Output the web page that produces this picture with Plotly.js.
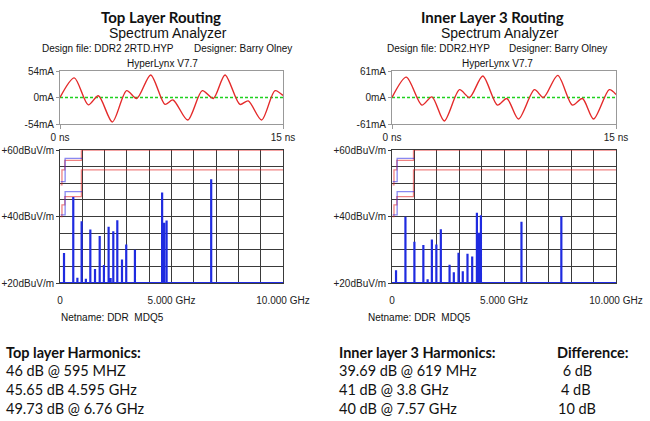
<!DOCTYPE html>
<html>
<head>
<meta charset="utf-8">
<script src="https://cdn.plot.ly/plotly-3.0.1.min.js"></script>
<style>html,body{margin:0;padding:0;background:#fff}#chart{width:650px;height:421px}</style>
</head>
<body>
<div id="chart"></div>
<script>
// ---- Time-domain current waveforms (ns, mA) ----
const topTime    = [0, 0.96, 1.9, 2.58, 3.52, 4.48, 5.16, 6.1, 7.06, 7.6, 8.59, 9.57, 10.31, 11.1, 12.1, 12.66, 13.56, 14.46, 15];
const topCurrent = [0, 40, -15, 3.5, -50, 14, -2, 46, -14, -5, -46, 14, -2, 46, -14, -7, -46, 14, 4];
const innerTime    = [0, 0.96, 2.0, 2.67, 3.5, 4.52, 5.19, 6.08, 7.06, 7.69, 8.47, 9.54, 10.14, 11.1, 12.08, 12.75, 13.5, 14.55, 15];
const innerCurrent = [0, 47, -17.5, 1.5, -54, 18, 0, 49.6, -17.5, -2.3, -49.6, 18, 0, 51, -17.5, -2.3, -49.6, 18, 7];
const topRange = 54, innerRange = 61;

// ---- Spectrum harmonics (GHz, dBuV/m) ----
const topFreq = [0.18, 0.595, 0.78, 0.97, 1.16, 1.36, 1.57, 1.78, 1.97, 2.18, 2.27, 2.39, 2.57, 2.78, 2.97, 3.36, 4.58, 4.67, 4.78, 6.78];
const topDb   = [29.0, 45.9, 21.6, 38.6, 21.3, 36.1, 24.2, 34.1, 25.4, 36.9, 21.5, 35.6, 38.9, 27.1, 31.6, 30.0, 47.2, 38.1, 38.8, 51.2];
const innerFreq = [0.18, 0.6, 1.0, 1.40, 1.59, 1.78, 1.98, 2.18, 2.57, 2.76, 2.97, 3.16, 3.37, 3.58, 3.79, 3.85, 3.89, 3.97, 5.78, 7.56];
const innerDb   = [23.8, 39.9, 32.4, 31.4, 21.1, 33.1, 31.6, 36.2, 25.5, 23.2, 29.1, 23.5, 28.8, 28.0, 41.1, 35.1, 35.1, 40.4, 38.4, 40.1];
const floorDb = 20;

// ---- Emission limit lines (GHz, dBuV/m) ----
const fccAFreq = [0.03, 0.088, 0.088, 0.216, 0.216, 0.96, 0.96, 10];
const fccADb   = [49.5, 49.5, 54, 54, 56.9, 56.9, 60, 60];
const fccBFreq = [0.03, 0.088, 0.088, 0.216, 0.216, 0.96, 0.96, 10];
const fccBDb   = [40, 40, 43.5, 43.5, 46, 46, 54, 54];
const cisprAFreq = [0.03, 0.23, 0.23, 1.0];
const cisprADb   = [50.5, 50.5, 57.5, 57.5];
const cisprBFreq = [0.03, 0.23, 0.23, 1.0];
const cisprBDb   = [40.5, 40.5, 47.5, 47.5];

// ---- Text ----
const panelTitles = ["Top Layer Routing", "Inner Layer 3 Routing"];
const designFiles = ["Design file: DDR2 2RTD.HYP", "Design file: DDR2.HYP"];
const designer = "Designer: Barry Olney";
const tool = "HyperLynx V7.7";
const netname = "Netname: DDR  MDQ5";
const topHarmonics = ["Top layer Harmonics:", "46 dB @ 595 MHZ", "45.65 dB 4.595 GHz", "49.73 dB @ 6.76 GHz"];
const innerHarmonics = ["Inner layer 3 Harmonics:", "39.69 dB @ 619 MHz", "41 dB @ 3.8 GHz", "40 dB @ 7.57 GHz"];
const differences = ["Difference:", " 6 dB", "4 dB", "10 dB"];

const W = 650, H = 421;
const px = x => x / W, py = y => 1 - y / H;
const ARIAL = "Liberation Sans, Arial, sans-serif";
const CAL = "Lato, Carlito, Calibri, sans-serif";

function spikes(f, d) {
  const x = [0], y = [floorDb];
  for (let i = 0; i < f.length; i++) { x.push(f[i], f[i], f[i]); y.push(floorDb, d[i], floorDb); }
  x.push(10); y.push(floorDb);
  return {x, y};
}

const traces = [];
function addPanel(n, time, cur, freq, db) {
  const xa = n === 0 ? 'x' : 'x3', ya = n === 0 ? 'y' : 'y3';
  const xs = n === 0 ? 'x2' : 'x4', ys = n === 0 ? 'y2' : 'y4';
  traces.push({x: [0, 15], y: [0, 0], xaxis: xa, yaxis: ya, type: 'scatter', mode: 'lines',
    line: {color: '#1fd01f', width: 1.3, dash: '3px,2px'}, hoverinfo: 'skip'});
  traces.push({x: time, y: cur, xaxis: xa, yaxis: ya, type: 'scatter', mode: 'lines',
    line: {color: '#e42a2a', width: 1.4, shape: 'spline', smoothing: 0.8}, hoverinfo: 'skip'});
  const lim = [[fccAFreq, fccADb, 'rgba(225,30,30,0.55)'], [fccBFreq, fccBDb, 'rgba(225,30,30,0.55)'],
               [cisprAFreq, cisprADb, 'rgba(40,40,230,0.55)'], [cisprBFreq, cisprBDb, 'rgba(40,40,230,0.55)']];
  lim.forEach(l => traces.push({x: l[0], y: l[1], xaxis: xs, yaxis: ys, type: 'scatter', mode: 'lines',
    line: {color: l[2], width: 1.3}, hoverinfo: 'skip'}));
  const s = spikes(freq, db);
  traces.push({x: s.x, y: s.y, xaxis: xs, yaxis: ys, type: 'scatter', mode: 'lines',
    line: {color: '#1f2be0', width: 2.2}, hoverinfo: 'skip'});
}
addPanel(0, topTime, topCurrent, topFreq, topDb);
addPanel(1, innerTime, innerCurrent, innerFreq, innerDb);

const tf = {family: ARIAL, size: 10, color: '#222'};
const GRID = '#3a3a3a';
function timeAxes(xd, yd, rng) {
  return [{domain: xd, range: [0, 15], tickvals: [0, 15], ticktext: ['0 ns', '15 ns'], showgrid: false, zeroline: false,
           showline: true, mirror: true, linecolor: '#999', linewidth: 1, ticks: 'outside', ticklen: 4, tickcolor: '#999',
           tickfont: tf, fixedrange: true},
          {domain: yd, range: [-rng, rng], tickvals: [rng, 0, -rng], ticktext: [rng + 'mA', '0mA', '-' + rng + 'mA'],
           showgrid: false, zeroline: false, showline: true, mirror: true, linecolor: '#999', linewidth: 1,
           ticks: 'outside', ticklen: 3, tickcolor: '#999', tickfont: tf, fixedrange: true}];
}
function specAxes(xd, yd) {
  return [{domain: xd, range: [0, 10], tickvals: [0, 5, 10], ticktext: ['0', '5.000 GHz', '10.000 GHz'],
           showgrid: true, gridcolor: GRID, gridwidth: 1, zeroline: false, showline: true, mirror: true,
           linecolor: GRID, linewidth: 1, ticks: '', ticklabelstandoff: 8, tickfont: tf, fixedrange: true,
           minor: {dtick: 1, tick0: 0, showgrid: true, gridcolor: GRID, gridwidth: 1}},
          {domain: yd, range: [20, 60], tickvals: [60, 40, 20], ticktext: ['+60dBuV/m', '+40dBuV/m', '+20dBuV/m'],
           showgrid: true, gridcolor: GRID, gridwidth: 1, zeroline: false, showline: true, mirror: true,
           linecolor: GRID, linewidth: 1, ticks: 'outside', ticklen: 3, tickcolor: GRID, tickfont: tf, fixedrange: true,
           minor: {dtick: 5, tick0: 0, showgrid: true, gridcolor: GRID, gridwidth: 1}}];
}
const tY = [py(124), py(71)], sY = [py(283), py(150)];
const lX = [px(60), px(283)], rX = [px(392), px(616)];
const [ax1, ay1] = timeAxes(lX, tY, topRange);
const [ax2, ay2] = specAxes(lX, sY);
const [ax3, ay3] = timeAxes(rX, tY, innerRange);
const [ax4, ay4] = specAxes(rX, sY);
ax1.anchor = 'y'; ay1.anchor = 'x'; ax2.anchor = 'y2'; ay2.anchor = 'x2';
ax3.anchor = 'y3'; ay3.anchor = 'x3'; ax4.anchor = 'y4'; ay4.anchor = 'x4';

function ann(text, x, y, anchor, font) {
  return {text, x: px(x), y: py(y), xref: 'paper', yref: 'paper', xanchor: anchor, yanchor: 'middle',
          showarrow: false, font, borderpad: 0};
}
const fTitle = {family: CAL, size: 15, color: '#111'};
const fSub = {family: ARIAL, size: 14, color: '#111'};
const fSmall = {family: ARIAL, size: 10, color: '#111'};
const fBot = {family: CAL, size: 14.5, color: '#111'};
const annotations = [
  ann('<b>' + panelTitles[0] + '</b>', 161, 17, 'center', fTitle),
  ann('Spectrum Analyzer', 168, 33, 'center', fSub),
  ann(designFiles[0], 41, 49, 'left', fSmall),
  ann(designer, 193, 49, 'left', fSmall),
  ann(tool, 162, 63, 'center', fSmall),
  ann(netname, 60, 317, 'left', fSmall),
  ann('<b>' + panelTitles[1] + '</b>', 493, 17, 'center', fTitle),
  ann('Spectrum Analyzer', 500, 33, 'center', fSub),
  ann(designFiles[1], 386, 49, 'left', fSmall),
  ann(designer, 508, 49, 'left', fSmall),
  ann(tool, 497, 63, 'center', fSmall),
  ann(netname, 367, 317, 'left', fSmall)
];
const rowsY = [352, 370, 389, 408];
topHarmonics.forEach((t, i) => annotations.push(ann(i === 0 ? '<b>' + t + '</b>' : t, 5, rowsY[i], 'left', fBot)));
innerHarmonics.forEach((t, i) => annotations.push(ann(i === 0 ? '<b>' + t + '</b>' : t, 338, rowsY[i], 'left', fBot)));
const diffX = [556, 558, 560, 557];
differences.forEach((t, i) => annotations.push(ann(i === 0 ? '<b>' + t + '</b>' : t, diffX[i], rowsY[i], 'left', fBot)));

const layout = {
  width: W, height: H, margin: {l: 0, r: 0, t: 0, b: 0}, paper_bgcolor: '#fff', plot_bgcolor: '#fff',
  showlegend: false, xaxis: ax1, yaxis: ay1, xaxis2: ax2, yaxis2: ay2, xaxis3: ax3, yaxis3: ay3, xaxis4: ax4, yaxis4: ay4,
  annotations
};
Plotly.newPlot('chart', traces, layout, {staticPlot: true, displayModeBar: false});
</script>
</body>
</html>
